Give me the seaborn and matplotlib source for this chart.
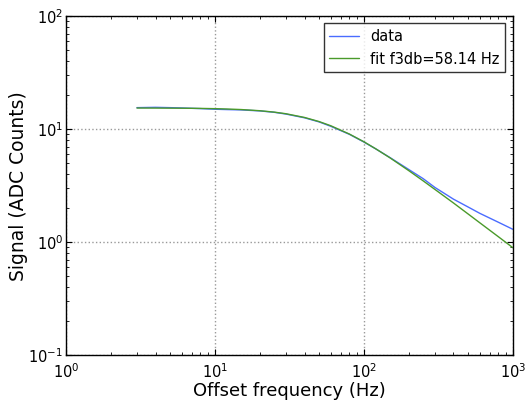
import matplotlib
matplotlib.use("Agg")
import matplotlib.pyplot as plt
import seaborn as sns
import pandas as pd

# Values
freq = [3, 4, 5, 6, 8, 10, 12, 15, 20, 25, 30, 40, 50, 60, 80, 100,
        120, 150, 200, 250, 300, 400, 500, 600, 800, 1000]
signal = [15.5, 15.6, 15.5, 15.4, 15.2, 15.0, 14.9, 14.8, 14.5, 14.1, 13.6,
          12.6, 11.6, 10.6, 9.0, 7.7, 6.7, 5.6, 4.4, 3.65, 3.05, 2.4, 2.05,
          1.8, 1.5, 1.3]
fit = [15.38, 15.36, 15.34, 15.32, 15.26, 15.18, 15.08, 14.91, 14.56, 14.15,
       13.69, 12.69, 11.68, 10.72, 9.05, 7.74, 6.71, 5.57, 4.30, 3.49, 2.93,
       2.22, 1.78, 1.485, 1.117, 0.894]
f3db = 58.14

df = pd.DataFrame({"freq": freq, "data": signal, "fit": fit})

sns.set_style("white")
plt.rcParams["font.family"] = ["DejaVu Sans"]
plt.rcParams["mathtext.fontset"] = "dejavusans"
plt.rcParams["mathtext.default"] = "regular"
plt.rcParams["text.color"] = "black"
plt.rcParams["axes.labelcolor"] = "black"
plt.rcParams["xtick.color"] = "black"
plt.rcParams["ytick.color"] = "black"

fig = plt.figure(figsize=(5.27, 4.04), dpi=100)
ax = fig.add_axes([0.125, 0.121, 0.848, 0.839])

sns.lineplot(data=df, x="freq", y="data", ax=ax, color="#4a6cff", lw=1.0, label="data")
sns.lineplot(data=df, x="freq", y="fit", ax=ax, color="#4a9a2a", lw=1.0,
             label="fit f3db=%.2f Hz" % f3db)

ax.set_xscale("log")
ax.set_yscale("log")
ax.set_xlim(1, 1000)
ax.set_ylim(0.1, 100)
ax.grid(True, which="major", linestyle=":", color="#999999", lw=1)

for s in ax.spines.values():
    s.set_color("black")
    s.set_linewidth(1)
ax.tick_params(which="both", direction="in", top=True, right=True,
               bottom=True, left=True, labelsize=10.5)
ax.tick_params(which="major", length=4)
ax.tick_params(axis="y", which="major", pad=2)
ax.tick_params(axis="x", which="major", pad=5)
ax.tick_params(which="minor", length=2)

ax.set_xlabel("Offset frequency (Hz)", fontsize=13, labelpad=1)
ax.set_ylabel("Signal (ADC Counts)", fontsize=13.5)
ax.yaxis.set_label_coords(-0.085, 0.5)

leg = ax.legend(loc="upper right", fontsize=10.5, fancybox=False, frameon=True)
leg.get_frame().set_edgecolor("black")
leg.get_frame().set_linewidth(1)

fig.savefig("out.png", dpi=100)
